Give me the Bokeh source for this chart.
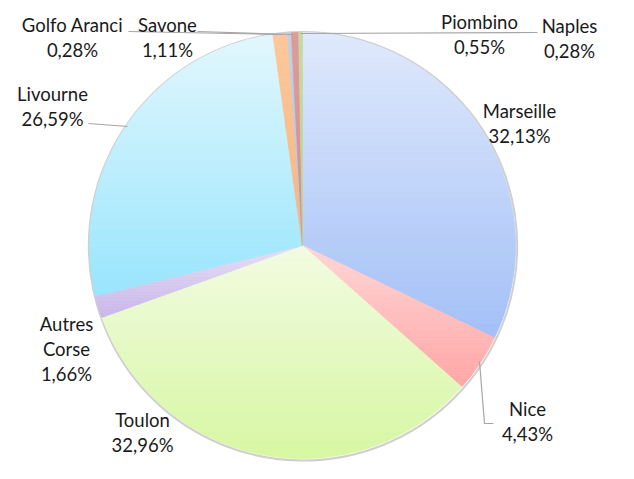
import numpy as np
from bokeh.plotting import figure
from bokeh.models import Range1d, ColumnDataSource
from bokeh.core.properties import value
from bokeh.embed import file_html
from bokeh.resources import INLINE

# ---- data ----
ports = ["Marseille", "Nice", "Toulon", "Autres Corse", "Livourne",
         "Savone", "Golfo Aranci", "Piombino", "Naples"]
shares = [32.13, 4.43, 32.96, 1.66, 26.59, 1.11, 0.28, 0.55, 0.28]
pct_labels = ["32,13%", "4,43%", "32,96%", "1,66%", "26,59%",
              "1,11%", "0,28%", "0,55%", "0,28%"]
# gradient colours (top, bottom) per slice
color_top = ["#e0e9fc", "#ffd6d6", "#f2fbe2", "#e6e0f6", "#e2f7fd",
             "#fbc89c", "#bed0e6", "#dc9c9a", "#c8da a3".replace(" ", "")]
color_bot = ["#a3c0f7", "#ffa6a6", "#d7f7a2", "#c9b6ea", "#99e5fd",
             "#f8b47c", "#b3c7e1", "#d48d8b", "#bcd291"]

# ---- layout (pixel coordinates inside the plot) ----
W, H = 618, 463
CX, CY, R = 302, 245, 213

p = figure(width=W, height=H, output_backend="svg", toolbar_location=None,
           x_range=Range1d(0, W), y_range=Range1d(-H, 0),
           min_border=0)
p.axis.visible = False
p.grid.visible = False
p.outline_line_color = None
p.background_fill_color = "white"


def hex2rgb(h):
    h = h.lstrip("#")
    return np.array([int(h[i:i + 2], 16) for i in (0, 2, 4)], dtype=float)


def rgb2hex(c):
    return "#%02x%02x%02x" % tuple(int(round(v)) for v in c)


def clip(poly, yv, keep_above):
    # keep points with y >= yv (keep_above) or y <= yv
    out = []
    n = len(poly)
    for i in range(n):
        a = poly[i]
        b = poly[(i + 1) % n]
        ina = (a[1] >= yv) if keep_above else (a[1] <= yv)
        inb = (b[1] >= yv) if keep_above else (b[1] <= yv)
        if ina:
            out.append(a)
        if ina != inb:
            t = (yv - a[1]) / (b[1] - a[1])
            out.append((a[0] + t * (b[0] - a[0]), yv))
    return out


frac = np.array(shares) / sum(shares)
cum = np.concatenate([[0], np.cumsum(frac)])
start = np.pi / 2 - cum[:-1] * 2 * np.pi
end = np.pi / 2 - cum[1:] * 2 * np.pi

# faint shadow ring
p.circle(x=[CX + 0.5], y=[-CY - 0.8], radius=R + 1.2, fill_color=None,
         line_color="#cfcfcf", line_width=2)

xs_all, ys_all, cols = [], [], []
NB = 48
for i in range(len(shares)):
    th = np.linspace(start[i], end[i], max(8, int(abs(end[i] - start[i]) * 80)))
    poly = [(CX, -CY)] + [(CX + R * np.cos(t), -CY + R * np.sin(t)) for t in th]
    ys = [q[1] for q in poly]
    ytop, ybot = max(ys), min(ys)
    ct, cb = hex2rgb(color_top[i]), hex2rgb(color_bot[i])
    edges = np.linspace(ytop, ybot, NB + 1)
    for k in range(NB):
        band = clip(poly, edges[k], keep_above=False)
        band = clip(band, edges[k + 1], keep_above=True)
        if len(band) < 3:
            continue
        f = (k + 0.5) / NB
        xs_all.append([q[0] for q in band])
        ys_all.append([q[1] for q in band])
        cols.append(rgb2hex(ct + (cb - ct) * f))

src = ColumnDataSource(dict(xs=xs_all, ys=ys_all, color=cols))
p.patches("xs", "ys", fill_color="color", line_color="color",
          line_width=0.8, source=src)

# leader lines
lines = [
    ([128, 282], [31, 34]),            # Golfo Aranci
    ([197, 292], [31, 34]),            # Savone
    ([300, 537], [33, 32]),            # Piombino / Naples
    ([88, 127], [123, 126]),           # Livourne
    ([479, 484, 493], [361, 423, 423]),  # Nice
]
for xs, ys in lines:
    p.line(xs, [-y for y in ys], line_color="#a6a6a6", line_width=1.2)

# labels: x, y of first line
label_pos = {
    "Marseille": (519, 110),
    "Nice": (527, 408),
    "Toulon": (142, 419),
    "Autres Corse": (66, 323),
    "Livourne": (52, 93),
    "Savone": (167, 24),
    "Golfo Aranci": (72, 24),
    "Piombino": (479, 21),
    "Naples": (569, 25),
}
LH = 25
tx, ty, tt = [], [], []
for name, pct in zip(ports, pct_labels):
    x0, y0 = label_pos[name]
    parts = ["Autres", "Corse"] if name == "Autres Corse" else [name]
    parts = parts + [pct]
    for j, s in enumerate(parts):
        tx.append(x0)
        ty.append(-(y0 + j * LH))
        tt.append(s)

p.text(x=tx, y=ty, text=tt, text_font=value("Lato"), text_font_size="18.5px",
       text_color="#1a1a1a", text_align="center", text_baseline="middle")

open("out.html", "w").write(file_html(p, INLINE))
